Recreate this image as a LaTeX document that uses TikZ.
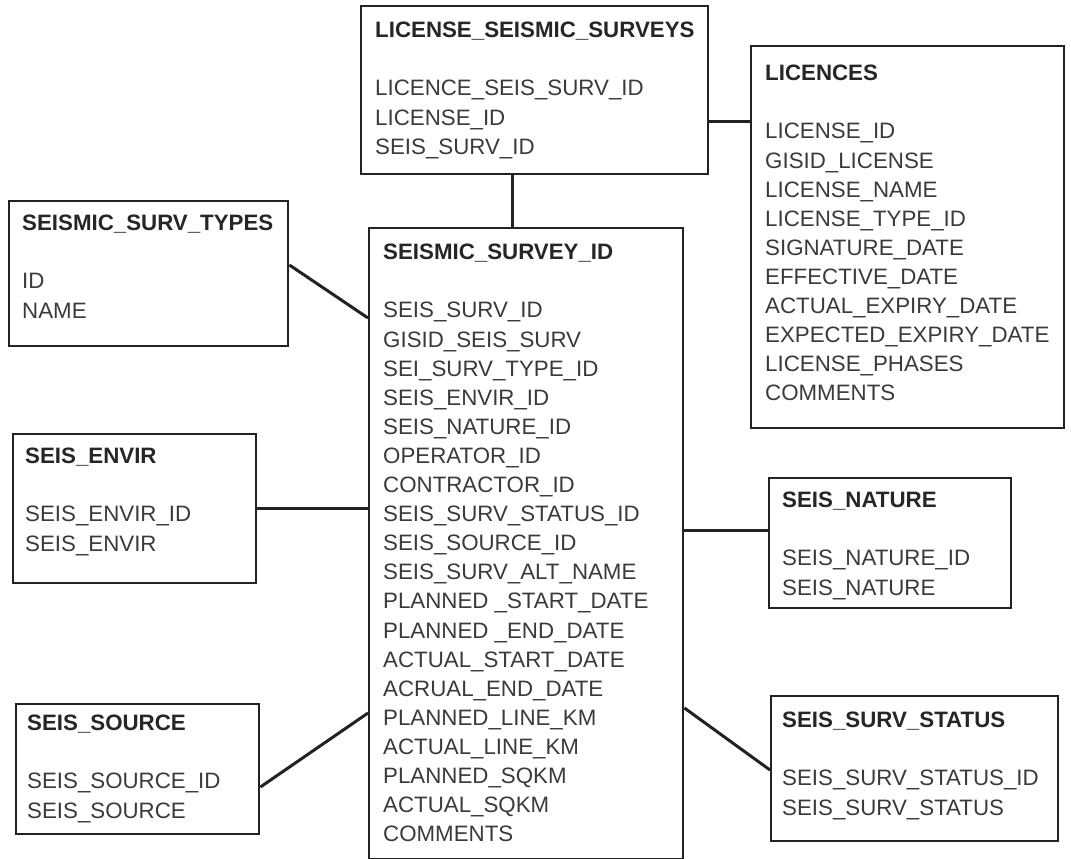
\documentclass[tikz,border=0pt]{standalone}
\usepackage{fontspec}
\setmainfont{Liberation Sans}
\definecolor{ink}{HTML}{222222}
\definecolor{txtgrey}{HTML}{3A3A3A}
\definecolor{ttlgrey}{HTML}{262626}
\tikzset{
  tbl/.style={draw=ink, line width=2.4pt, rectangle, anchor=north west, inner sep=0pt, fill=white},
  fields/.style={anchor=north west, inner sep=0pt, align=left, text=txtgrey,
    font=\fontsize{22.3}{29.1}\selectfont},
  link/.style={draw=ink, line width=3pt}
}
\newcommand{\ttl}[1]{{\color{ttlgrey}\bfseries #1}}
\begin{document}
\begin{tikzpicture}[x=1pt,y=-1pt]
\useasboundingbox[fill=white] (0,0) rectangle (1071,859);

% tables
\node[tbl, minimum width=347pt, minimum height=168pt] (lss) at (360,5) {};
\node[tbl, minimum width=313pt, minimum height=382pt] (lic) at (750,45) {};
\node[tbl, minimum width=279pt, minimum height=145pt] (sst) at (8,200) {};
\node[tbl, minimum width=314pt, minimum height=631pt] (ssi) at (368,227) {};
\node[tbl, minimum width=243pt, minimum height=149pt] (env) at (12,433) {};
\node[tbl, minimum width=242pt, minimum height=130pt] (nat) at (768,477) {};
\node[tbl, minimum width=243pt, minimum height=130pt] (src) at (15,703) {};
\node[tbl, minimum width=287pt, minimum height=145pt] (sta) at (770,695) {};

% table contents
\node[fields] (lss-t) at (375,22) {\ttl{LICENSE\_SEISMIC\_SURVEYS}\\[29.1pt]
LICENCE\_SEIS\_SURV\_ID\\ LICENSE\_ID\\ SEIS\_SURV\_ID};
\node[fields] (lic-t) at (765,65) {\ttl{LICENCES}\\[29.1pt]
LICENSE\_ID\\ GISID\_LICENSE\\ LICENSE\_NAME\\ LICENSE\_TYPE\_ID\\ SIGNATURE\_DATE\\
EFFECTIVE\_DATE\\ ACTUAL\_EXPIRY\_DATE\\ EXPECTED\_EXPIRY\_DATE\\ LICENSE\_PHASES\\ COMMENTS};
\node[fields] (sst-t) at (22,215) {\ttl{SEISMIC\_SURV\_TYPES}\\[29.1pt]
ID\\ NAME};
\node[fields] (ssi-t) at (383,244) {\ttl{SEISMIC\_SURVEY\_ID}\\[29.1pt]
SEIS\_SURV\_ID\\ GISID\_SEIS\_SURV\\ SEI\_SURV\_TYPE\_ID\\ SEIS\_ENVIR\_ID\\
SEIS\_NATURE\_ID\\ OPERATOR\_ID\\ CONTRACTOR\_ID\\ SEIS\_SURV\_STATUS\_ID\\
SEIS\_SOURCE\_ID\\ SEIS\_SURV\_ALT\_NAME\\ PLANNED \_START\_DATE\\ PLANNED \_END\_DATE\\
ACTUAL\_START\_DATE\\ ACRUAL\_END\_DATE\\ PLANNED\_LINE\_KM\\ ACTUAL\_LINE\_KM\\
PLANNED\_SQKM\\ ACTUAL\_SQKM\\ COMMENTS};
\node[fields] (env-t) at (25,448) {\ttl{SEIS\_ENVIR}\\[29.1pt]
SEIS\_ENVIR\_ID\\ SEIS\_ENVIR};
\node[fields] (nat-t) at (782,492) {\ttl{SEIS\_NATURE}\\[29.1pt]
SEIS\_NATURE\_ID\\ SEIS\_NATURE};
\node[fields] (src-t) at (27,715) {\ttl{SEIS\_SOURCE}\\[29.1pt]
SEIS\_SOURCE\_ID\\ SEIS\_SOURCE};
\node[fields] (sta-t) at (782,712) {\ttl{SEIS\_SURV\_STATUS}\\[29.1pt]
SEIS\_SURV\_STATUS\_ID\\ SEIS\_SURV\_STATUS};

% relationships
\draw[link] ([xshift=152pt]lss.south west) -- ([xshift=144pt]ssi.north west);
\draw[link] ([yshift=-116pt]lss.north east) -- ([yshift=-76pt]lic.north west);
\draw[link] ([yshift=-65pt]sst.north east) -- ([yshift=-91pt]ssi.north west);
\draw[link] ([yshift=-75pt]env.north east) -- ([yshift=-281pt]ssi.north west);
\draw[link] ([yshift=-53pt]nat.north west) -- ([yshift=-303pt]ssi.north east);
\draw[link] ([yshift=-84pt]src.north east) -- ([yshift=-486pt]ssi.north west);
\draw[link] ([yshift=-75pt]sta.north west) -- ([yshift=-481pt]ssi.north east);
\end{tikzpicture}
\end{document}
